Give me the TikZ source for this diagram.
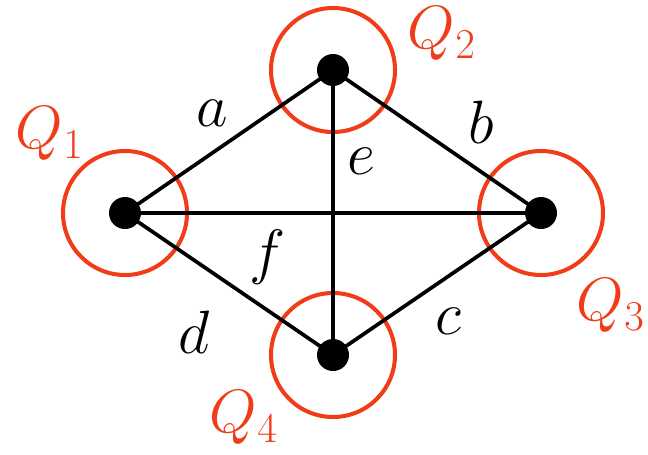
\documentclass[tikz,border=0pt]{standalone}
\usepackage{xcolor}
\usepackage{tikz}
\usetikzlibrary{positioning}

\definecolor{zonered}{RGB}{240,60,25}
\DeclareMathSizes{24.88}{24.88}{17.28}{12}

\begin{document}
\begin{tikzpicture}[
    zone/.style={
        circle, draw=zonered, line width=2.3pt,
        minimum size=2.48cm, inner sep=0pt
    },
    dot/.style={circle, fill=black, minimum size=0.64cm, inner sep=0pt},
    edge/.style={line width=2.1pt, black},
    elbl/.style={font=\Huge, scale=1.4, transform shape, inner sep=0pt},
    qlbl/.style={elbl, text=zonered},
]
\useasboundingbox (0,0) rectangle (12.96,9.08);

% Zone
\node[zone] (z1) at (2.50, 4.82) {};
\node[zone] (z2) at (6.66, 7.68) {};
\node[zone] (z3) at (10.82, 4.82) {};
\node[zone] (z4) at (6.66, 1.98) {};

% Etichette zone
\node[qlbl] (l1) at (1.00, 6.40) {$Q_1$};
\node[qlbl] (l2) at (8.84, 8.40) {$Q_2$};
\node[qlbl] (l3) at (12.22, 2.96) {$Q_3$};
\node[qlbl] (l4) at (4.88, 0.72) {$Q_4$};

% Lati (shift scalati da transform shape)
\draw[edge] (z1.center) --
    node[elbl, xshift=-0.24cm, yshift=0.40cm]{$a$}
    (z2.center);
\draw[edge] (z2.center) --
    node[elbl, xshift=0.63cm, yshift=0.27cm]{$b$}
    (z3.center);
\draw[edge] (z3.center) --
    node[elbl, xshift=0.16cm, yshift=-0.54cm]{$c$}
    (z4.center);
\draw[edge] (z1.center) --
    node[elbl, xshift=-0.50cm, yshift=-0.69cm]{$d$}
    (z4.center);
\draw[edge] (z2.center) --
    node[elbl, pos=0.32, xshift=0.41cm]{$e$}
    (z4.center);
\draw[edge] (z1.center) --
    node[elbl, pos=0.342, yshift=-0.63cm]{$f$}
    (z3.center);

% Vertici
\node[dot] (q1) at (z1) {};
\node[dot] (q2) at (z2) {};
\node[dot] (q3) at (z3) {};
\node[dot] (q4) at (z4) {};

\end{tikzpicture}
\end{document}
